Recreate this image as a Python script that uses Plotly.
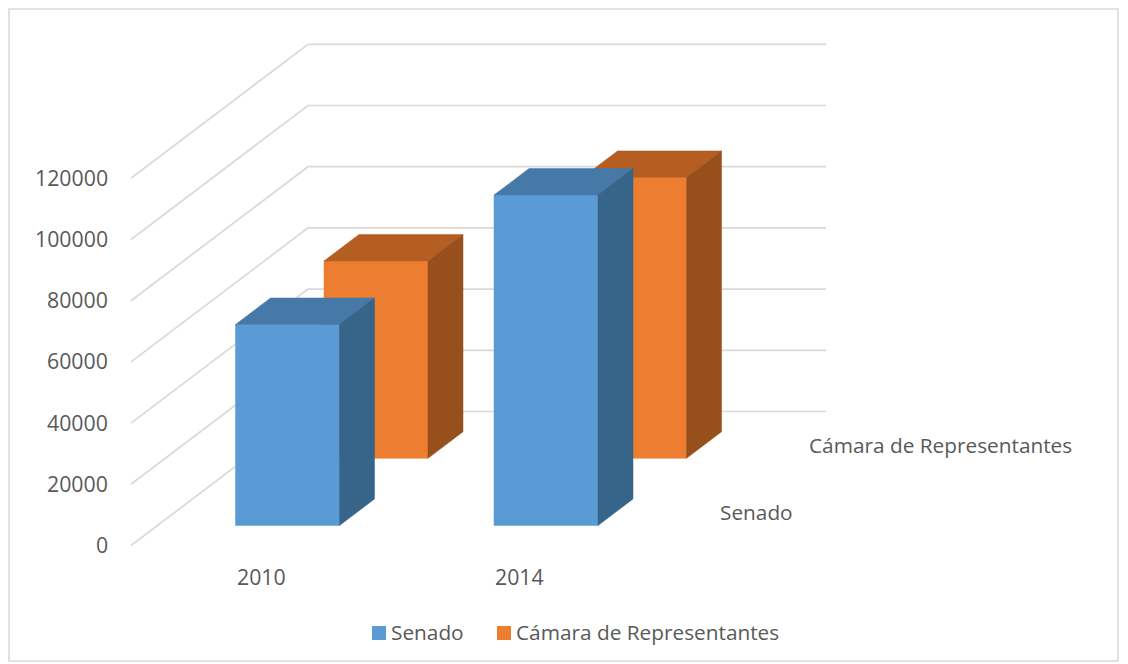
import plotly.graph_objects as go

categories = ["2010", "2014"]
series_names = ["Senado", "Cámara de Representantes"]
senado = [65700, 108000]
camara = [64500, 91800]
y_ticks = [0, 20000, 40000, 60000, 80000, 100000, 120000]
wall_levels = y_ticks

PX_PER_UNIT = 61.2 / 20000
FLOOR_Y = 545.5
LEFT_X = 131.0
DEPTH_DX, DEPTH_DY = 177.0, -134.0
WALL_RIGHT = 826.0
BAR_W, BAR_DX, BAR_DY = 104.0, 35.0, -26.5
CAT_X = [235.5, 494.0]
SER_OFF = [(0.0, -20.0), (88.5, -87.2)]
COLORS = [("#5B9BD5", "#4679A8", "#376489"), ("#ED7D31", "#B45E22", "#974F1C")]
GRID = "#D9D9D9"
TEXT = "#595959"
FONT = "Open Sans"

# the page body adds an 8px margin around the figure; the axis ranges absorb it
PAGE_OFFSET = 8

fig = go.Figure()


def poly(xs, ys, color):
    fig.add_trace(go.Scatter(x=xs + xs[:1], y=ys + ys[:1], mode="lines", fill="toself", fillcolor=color,
                             line=dict(color=color, width=0.5), hoverinfo="skip", showlegend=False))


for v in wall_levels:
    wy = FLOOR_Y - v * PX_PER_UNIT
    fig.add_trace(go.Scatter(x=[LEFT_X, LEFT_X + DEPTH_DX, WALL_RIGHT], y=[wy, wy + DEPTH_DY, wy + DEPTH_DY],
                             mode="lines", line=dict(color=GRID, width=1.7), hoverinfo="skip", showlegend=False))


def bar(cat, ser, value):
    ox, oy = SER_OFF[ser]
    x0 = CAT_X[cat] + ox
    x1 = x0 + BAR_W
    bottom = FLOOR_Y + oy
    top = bottom - value * PX_PER_UNIT
    front, roof, side = COLORS[ser]
    poly([x0, x1, x1, x0], [bottom, bottom, top, top], front)
    poly([x0, x1, x1 + BAR_DX, x0 + BAR_DX], [top, top, top + BAR_DY, top + BAR_DY], roof)
    poly([x1, x1 + BAR_DX, x1 + BAR_DX, x1], [bottom, bottom + BAR_DY, top + BAR_DY, top], side)


for c, v in enumerate(camara):
    bar(c, 1, v)
for c, v in enumerate(senado):
    bar(c, 0, v)

# legend, drawn so that swatch and label spacing follow the reference
LEGEND_Y = 633
LEGEND_SWATCH_X = [379, 504]
LEGEND_TEXT_X = [389, 514]
for name, col, sx in zip(series_names, COLORS, LEGEND_SWATCH_X):
    fig.add_trace(go.Scatter(x=[sx], y=[LEGEND_Y], mode="markers", name=name, showlegend=False, hoverinfo="name",
                             marker=dict(symbol="square", size=14, color=col[0], line=dict(width=0))))

ann = []
for v in y_ticks:
    ann.append(dict(x=110, y=FLOOR_Y - v * PX_PER_UNIT - 1, text=str(v), xanchor="right", size=21.3))
for x, c in zip(CAT_X, categories):
    ann.append(dict(x=x + 25.5, y=576, text=c, xanchor="center", size=21.3))
ann.append(dict(x=718, y=512, text=series_names[0], xanchor="left", size=20.8))
ann.append(dict(x=807, y=445, text=series_names[1], xanchor="left", size=20.8))
for tx, name in zip(LEGEND_TEXT_X, series_names):
    ann.append(dict(x=tx, y=LEGEND_Y - 1, text=name, xanchor="left", size=20.8))
for a in ann:
    size = a.pop("size")
    a.update(showarrow=False, xref="x", yref="y", yanchor="middle",
             font=dict(family=FONT, size=size, color=TEXT))

fig.update_layout(
    width=1128, height=664, autosize=False,
    margin=dict(l=0, r=0, t=0, b=0),
    paper_bgcolor="white", plot_bgcolor="white",
    showlegend=False,
    xaxis=dict(range=[PAGE_OFFSET, 1128 + PAGE_OFFSET], visible=False, fixedrange=True),
    yaxis=dict(range=[664 + PAGE_OFFSET, PAGE_OFFSET], visible=False, fixedrange=True),
    annotations=ann,
    shapes=[dict(type="rect", xref="x", yref="y", x0=9, x1=1118, y0=9, y1=661,
                 line=dict(color="#D9D9D9", width=1.5), layer="below")],
)
fig.write_html("out.html")
